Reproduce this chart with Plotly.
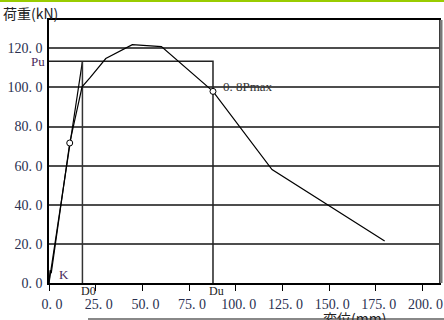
import plotly.graph_objects as go

# ---- data ----
disp = [0, 0.6, 1.2, 11.1, 17.7, 22.0, 30.4, 44.6, 60.2, 87.8, 119.4, 179.7]
load = [0, 6.5, 5.0, 71.6, 100.3, 105.0, 114.8, 121.9, 120.9, 98.0, 58.0, 21.5]

D0 = 17.9
Du = 87.8
Pu = 113.4
yield_pt = (11.1, 71.6)
pmax08_pt = (87.8, 98.0)

x_ticks = [0, 25, 50, 75, 100, 125, 150, 175, 200]
x_ticktext = ["0. 0", "25. 0", "50. 0", "75. 0", "100. 0", "125. 0", "150. 0", "175. 0", "200. 0"]
y_ticks = [0, 20, 40, 60, 80, 100, 120]
y_ticktext = ["0. 0", "20. 0", "40. 0", "60. 0", "80. 0", "100. 0", "120. 0"]

X_RANGE = [0, 208.8]
Y_RANGE = [0, 134.5]

W, H = 444, 320
PL, PR, PT, PB = 49, 439, 20, 283          # plot area in window pixels
ML, MR, MT, MB = PL, W - PR, PT, H - PB
PW, PH = PR - PL, PB - PT

def px(xpix):
    return (xpix - PL) / PW

def py(ypix):
    return (PB - ypix) / PH

lbl = "#2a3050"
mark = "#4a2a5a"
serif = "Liberation Serif"

fig = go.Figure()

# secant line, D0 vertical, Pu/Du box
fig.add_trace(go.Scatter(x=[0, D0], y=[0, Pu], mode="lines",
                         line=dict(color="black", width=1.2), hoverinfo="skip"))
fig.add_trace(go.Scatter(x=[D0, D0], y=[0, Pu], mode="lines",
                         line=dict(color="#333", width=1.5), hoverinfo="skip"))
fig.add_trace(go.Scatter(x=[0, Du, Du], y=[Pu, Pu, 0], mode="lines",
                         line=dict(color="#222", width=1.5), hoverinfo="skip"))
# main curve
fig.add_trace(go.Scatter(x=disp, y=load, mode="lines",
                         line=dict(color="black", width=1.2), hoverinfo="skip"))
# points
fig.add_trace(go.Scatter(x=[yield_pt[0], pmax08_pt[0]], y=[yield_pt[1], pmax08_pt[1]],
                         mode="markers",
                         marker=dict(symbol="circle", size=6, color="white",
                                     line=dict(color="black", width=1)),
                         hoverinfo="skip"))

fig.update_layout(
    width=W, height=H,
    margin=dict(l=ML, r=MR, t=MT, b=MB, autoexpand=False),
    paper_bgcolor="white", plot_bgcolor="white",
    showlegend=False,
    xaxis=dict(range=X_RANGE, tickvals=x_ticks, ticktext=x_ticktext,
               showgrid=False, zeroline=False, automargin=False,
               showline=True, linecolor="black", linewidth=1.5, mirror=True,
               ticks="outside", ticklen=6, tickcolor="black", tickwidth=1.2,
               tickfont=dict(family=serif, size=14, color=lbl),
               ticklabelstandoff=1, ticklabelshift=3),
    yaxis=dict(range=Y_RANGE, tickvals=y_ticks, ticktext=y_ticktext,
               showgrid=True, gridcolor="#4d4d4d", gridwidth=2, zeroline=False,
               automargin=False,
               showline=True, linecolor="black", linewidth=1.5, mirror=True,
               ticks="", tickfont=dict(family=serif, size=14, color=lbl),
               ticklabelstandoff=2),
)

annos = [
    dict(x=px(30), y=py(13), text="荷重(kN)", xanchor="center", yanchor="middle",
         font=dict(family="Noto Sans CJK JP", size=14, color="#222")),
    dict(x=px(354), y=py(318), text="変位(mm)", xanchor="center", yanchor="middle",
         font=dict(family="Noto Sans CJK JP", size=14, color="#222")),
    dict(x=px(47), y=py(61), text="Pu", xanchor="right", yanchor="middle",
         font=dict(family=serif, size=13, color=mark)),
    dict(x=px(57), y=py(274), text="K", xanchor="left", yanchor="middle",
         font=dict(family=serif, size=13, color=mark)),
    dict(x=px(88), y=py(291), text="D0", xanchor="center", yanchor="middle",
         font=dict(family=serif, size=12, color="#222")),
    dict(x=px(216), y=py(291), text="Du", xanchor="center", yanchor="middle",
         font=dict(family=serif, size=12, color="#222")),
    dict(x=px(221), y=py(87), text="0. 8Pmax", xanchor="left", yanchor="middle",
         font=dict(family=serif, size=13, color="#333")),
]
for a in annos:
    a.update(xref="paper", yref="paper", showarrow=False)
fig.update_layout(annotations=annos)

fig.update_layout(shapes=[
    # green strip at the very top
    dict(type="rect", xref="paper", yref="paper", x0=px(0), x1=px(W), y0=py(2), y1=py(0),
         fillcolor="#99cc00", line=dict(width=0), layer="above"),
    # grey shadow on the right of the frame
    dict(type="line", xref="paper", yref="paper", x0=px(441), x1=px(441), y0=py(PB), y1=py(PT),
         line=dict(color="#777", width=3)),
    # grey bottom rule
    dict(type="line", xref="paper", yref="paper", x0=px(88), x1=px(W), y0=py(319), y1=py(319),
         line=dict(color="#888", width=2)),
])

fig.write_html("out.html", config={"displayModeBar": False},
               post_script="document.body.style.margin='0px';document.body.style.overflow='hidden';")
